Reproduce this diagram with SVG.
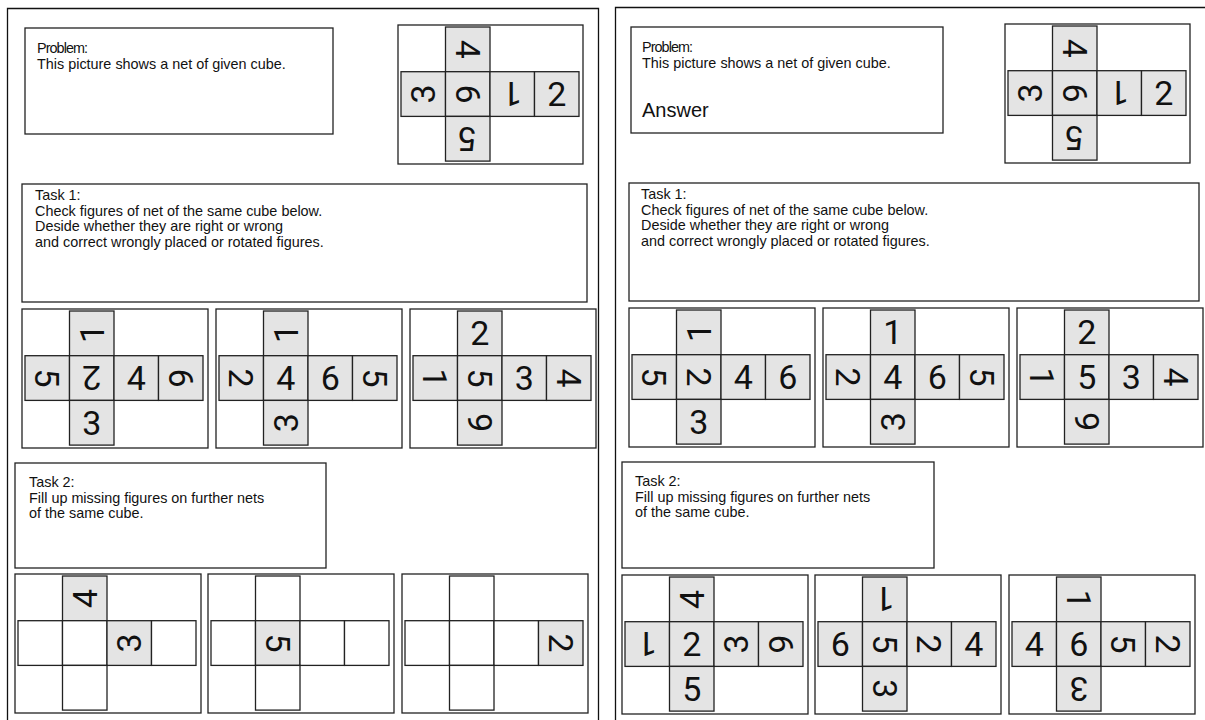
<svg xmlns="http://www.w3.org/2000/svg" width="1205" height="720" viewBox="0 0 1205 720">
<style>
.pn{fill:none;stroke:#111;stroke-width:1.3}
.box{fill:#fff;stroke:#222;stroke-width:1.3}
.fr{fill:#fff;stroke:#222;stroke-width:1.3}
.g{fill:#e4e4e4;stroke:#222;stroke-width:1.3}
.w{fill:#fff;stroke:#222;stroke-width:1.3}
.d{font-family:Roboto,"Liberation Sans",Arial,sans-serif;font-size:34px;text-anchor:middle;fill:#111}
.t{font-family:"Liberation Sans",Arial,sans-serif;font-size:14.4px;fill:#111}
.a{font-family:"Liberation Sans",Arial,sans-serif;font-size:20px;fill:#111}
</style>
<rect width="1205" height="720" fill="#fff"/>
<g id="panels">
<path class="pn" d="M7.5,725 V8.5 H598.5 V725"/>
<path class="pn" d="M615.5,725 V7.5 H1210"/>
</g>

<!-- LEFT PANEL -->
<g id="L-problem">
<rect class="box" x="25" y="28" width="308" height="106"/>
<text class="t" x="37" y="53" textLength="51">Problem:</text>
<text class="t" x="37" y="69">This picture shows a net of given cube.</text>
</g>
<g id="L-problem-net" transform="translate(398,25)">
<rect class="fr" x="0" y="0" width="185" height="139"/>
<rect class="g" x="47.5" y="2" width="44.5" height="44.7"/>
<rect class="g" x="3" y="46.7" width="44.5" height="44.7"/>
<rect class="g" x="47.5" y="46.7" width="44.5" height="44.7"/>
<rect class="g" x="92" y="46.7" width="44.5" height="44.7"/>
<rect class="g" x="136.5" y="46.7" width="44.5" height="44.7"/>
<rect class="g" x="47.5" y="91.4" width="44.5" height="44.7"/>
<text class="d" x="69.75" y="36.4" transform="rotate(90 69.75 24.35)">4</text>
<text class="d" x="25.25" y="81.1" transform="rotate(-90 25.25 69.05)">3</text>
<text class="d" x="69.75" y="81.1" transform="rotate(90 69.75 69.05)">6</text>
<text class="d" x="114.25" y="81.1" transform="rotate(180 114.25 69.05)">1</text>
<text class="d" x="158.75" y="81.1">2</text>
<text class="d" x="69.75" y="125.8" transform="rotate(180 69.75 113.75)">5</text>
</g>

<g id="L-task1">
<rect class="box" x="22" y="184" width="565" height="118"/>
<text class="t" x="35" y="200">Task 1:</text>
<text class="t" x="35" y="215.5">Check figures of net of the same cube below.</text>
<text class="t" x="35" y="231">Deside whether they are right or wrong</text>
<text class="t" x="35" y="246.5">and correct wrongly placed or rotated figures.</text>
</g>
<g id="L-t1-net1" transform="translate(22,309)">
<rect class="fr" x="0" y="0" width="186" height="139"/>
<rect class="g" x="47.5" y="2" width="44.5" height="44.7"/>
<rect class="g" x="3" y="46.7" width="44.5" height="44.7"/>
<rect class="g" x="47.5" y="46.7" width="44.5" height="44.7"/>
<rect class="g" x="92" y="46.7" width="44.5" height="44.7"/>
<rect class="g" x="136.5" y="46.7" width="44.5" height="44.7"/>
<rect class="g" x="47.5" y="91.4" width="44.5" height="44.7"/>
<text class="d" x="69.75" y="36.4" transform="rotate(-90 69.75 24.35)">1</text>
<text class="d" x="25.25" y="81.1" transform="rotate(90 25.25 69.05)">5</text>
<text class="d" x="69.75" y="81.1" transform="rotate(180 69.75 69.05)">2</text>
<text class="d" x="114.25" y="81.1">4</text>
<text class="d" x="158.75" y="81.1" transform="rotate(90 158.75 69.05)">6</text>
<text class="d" x="69.75" y="125.8">3</text>
</g>
<g id="L-t1-net2" transform="translate(216,309)">
<rect class="fr" x="0" y="0" width="186" height="139"/>
<rect class="g" x="47.5" y="2" width="44.5" height="44.7"/>
<rect class="g" x="3" y="46.7" width="44.5" height="44.7"/>
<rect class="g" x="47.5" y="46.7" width="44.5" height="44.7"/>
<rect class="g" x="92" y="46.7" width="44.5" height="44.7"/>
<rect class="g" x="136.5" y="46.7" width="44.5" height="44.7"/>
<rect class="g" x="47.5" y="91.4" width="44.5" height="44.7"/>
<text class="d" x="69.75" y="36.4" transform="rotate(-90 69.75 24.35)">1</text>
<text class="d" x="25.25" y="81.1" transform="rotate(90 25.25 69.05)">2</text>
<text class="d" x="69.75" y="81.1">4</text>
<text class="d" x="114.25" y="81.1">6</text>
<text class="d" x="158.75" y="81.1" transform="rotate(90 158.75 69.05)">5</text>
<text class="d" x="69.75" y="125.8" transform="rotate(-90 69.75 113.75)">3</text>
</g>
<g id="L-t1-net3" transform="translate(410,309)">
<rect class="fr" x="0" y="0" width="186" height="139"/>
<rect class="g" x="47.5" y="2" width="44.5" height="44.7"/>
<rect class="g" x="3" y="46.7" width="44.5" height="44.7"/>
<rect class="g" x="47.5" y="46.7" width="44.5" height="44.7"/>
<rect class="g" x="92" y="46.7" width="44.5" height="44.7"/>
<rect class="g" x="136.5" y="46.7" width="44.5" height="44.7"/>
<rect class="g" x="47.5" y="91.4" width="44.5" height="44.7"/>
<text class="d" x="69.75" y="36.4">2</text>
<text class="d" x="25.25" y="81.1" transform="rotate(90 25.25 69.05)">1</text>
<text class="d" x="69.75" y="81.1" transform="rotate(90 69.75 69.05)">5</text>
<text class="d" x="114.25" y="81.1">3</text>
<text class="d" x="158.75" y="81.1" transform="rotate(90 158.75 69.05)">4</text>
<text class="d" x="69.75" y="125.8" transform="rotate(-90 69.75 113.75)">6</text>
</g>

<g id="L-task2">
<rect class="box" x="15" y="463" width="311" height="105"/>
<text class="t" x="29" y="487">Task 2:</text>
<text class="t" x="29" y="502.5">Fill up missing figures on further nets</text>
<text class="t" x="29" y="518">of the same cube.</text>
</g>
<g id="L-t2-net1" transform="translate(15,574)">
<rect class="fr" x="0" y="0" width="186" height="139"/>
<rect class="g" x="47.5" y="2" width="44.5" height="44.7"/>
<rect class="w" x="3" y="46.7" width="44.5" height="44.7"/>
<rect class="w" x="47.5" y="46.7" width="44.5" height="44.7"/>
<rect class="g" x="92" y="46.7" width="44.5" height="44.7"/>
<rect class="w" x="136.5" y="46.7" width="44.5" height="44.7"/>
<rect class="w" x="47.5" y="91.4" width="44.5" height="44.7"/>
<text class="d" x="69.75" y="36.4" transform="rotate(-90 69.75 24.35)">4</text>
<text class="d" x="114.25" y="81.1" transform="rotate(-90 114.25 69.05)">3</text>
</g>
<g id="L-t2-net2" transform="translate(208,574)">
<rect class="fr" x="0" y="0" width="186" height="139"/>
<rect class="w" x="47.5" y="2" width="44.5" height="44.7"/>
<rect class="w" x="3" y="46.7" width="44.5" height="44.7"/>
<rect class="g" x="47.5" y="46.7" width="44.5" height="44.7"/>
<rect class="w" x="92" y="46.7" width="44.5" height="44.7"/>
<rect class="w" x="136.5" y="46.7" width="44.5" height="44.7"/>
<rect class="w" x="47.5" y="91.4" width="44.5" height="44.7"/>
<text class="d" x="69.75" y="81.1" transform="rotate(90 69.75 69.05)">5</text>
</g>
<g id="L-t2-net3" transform="translate(402,574)">
<rect class="fr" x="0" y="0" width="186" height="139"/>
<rect class="w" x="47.5" y="2" width="44.5" height="44.7"/>
<rect class="w" x="3" y="46.7" width="44.5" height="44.7"/>
<rect class="w" x="47.5" y="46.7" width="44.5" height="44.7"/>
<rect class="w" x="92" y="46.7" width="44.5" height="44.7"/>
<rect class="g" x="136.5" y="46.7" width="44.5" height="44.7"/>
<rect class="w" x="47.5" y="91.4" width="44.5" height="44.7"/>
<text class="d" x="158.75" y="81.1" transform="rotate(90 158.75 69.05)">2</text>
</g>

<!-- RIGHT PANEL -->
<g id="R-problem">
<rect class="box" x="631" y="27" width="312" height="106"/>
<text class="t" x="642" y="52" textLength="51">Problem:</text>
<text class="t" x="642" y="68">This picture shows a net of given cube.</text>
<text class="a" x="642" y="117">Answer</text>
</g>
<g id="R-problem-net" transform="translate(1005,24)">
<rect class="fr" x="0" y="0" width="185" height="139"/>
<rect class="g" x="47.5" y="2" width="44.5" height="44.7"/>
<rect class="g" x="3" y="46.7" width="44.5" height="44.7"/>
<rect class="g" x="47.5" y="46.7" width="44.5" height="44.7"/>
<rect class="g" x="92" y="46.7" width="44.5" height="44.7"/>
<rect class="g" x="136.5" y="46.7" width="44.5" height="44.7"/>
<rect class="g" x="47.5" y="91.4" width="44.5" height="44.7"/>
<text class="d" x="69.75" y="36.4" transform="rotate(90 69.75 24.35)">4</text>
<text class="d" x="25.25" y="81.1" transform="rotate(-90 25.25 69.05)">3</text>
<text class="d" x="69.75" y="81.1" transform="rotate(90 69.75 69.05)">6</text>
<text class="d" x="114.25" y="81.1" transform="rotate(180 114.25 69.05)">1</text>
<text class="d" x="158.75" y="81.1">2</text>
<text class="d" x="69.75" y="125.8" transform="rotate(180 69.75 113.75)">5</text>
</g>

<g id="R-task1">
<rect class="box" x="629" y="183" width="570" height="118"/>
<text class="t" x="641" y="199">Task 1:</text>
<text class="t" x="641" y="214.5">Check figures of net of the same cube below.</text>
<text class="t" x="641" y="230">Deside whether they are right or wrong</text>
<text class="t" x="641" y="245.5">and correct wrongly placed or rotated figures.</text>
</g>
<g id="R-t1-net1" transform="translate(629,308)">
<rect class="fr" x="0" y="0" width="186" height="139"/>
<rect class="g" x="47.5" y="2" width="44.5" height="44.7"/>
<rect class="g" x="3" y="46.7" width="44.5" height="44.7"/>
<rect class="g" x="47.5" y="46.7" width="44.5" height="44.7"/>
<rect class="g" x="92" y="46.7" width="44.5" height="44.7"/>
<rect class="g" x="136.5" y="46.7" width="44.5" height="44.7"/>
<rect class="g" x="47.5" y="91.4" width="44.5" height="44.7"/>
<text class="d" x="69.75" y="36.4" transform="rotate(-90 69.75 24.35)">1</text>
<text class="d" x="25.25" y="81.1" transform="rotate(90 25.25 69.05)">5</text>
<text class="d" x="69.75" y="81.1" transform="rotate(90 69.75 69.05)">2</text>
<text class="d" x="114.25" y="81.1">4</text>
<text class="d" x="158.75" y="81.1">6</text>
<text class="d" x="69.75" y="125.8">3</text>
</g>
<g id="R-t1-net2" transform="translate(823,308)">
<rect class="fr" x="0" y="0" width="186" height="139"/>
<rect class="g" x="47.5" y="2" width="44.5" height="44.7"/>
<rect class="g" x="3" y="46.7" width="44.5" height="44.7"/>
<rect class="g" x="47.5" y="46.7" width="44.5" height="44.7"/>
<rect class="g" x="92" y="46.7" width="44.5" height="44.7"/>
<rect class="g" x="136.5" y="46.7" width="44.5" height="44.7"/>
<rect class="g" x="47.5" y="91.4" width="44.5" height="44.7"/>
<text class="d" x="69.75" y="36.4">1</text>
<text class="d" x="25.25" y="81.1" transform="rotate(90 25.25 69.05)">2</text>
<text class="d" x="69.75" y="81.1">4</text>
<text class="d" x="114.25" y="81.1">6</text>
<text class="d" x="158.75" y="81.1" transform="rotate(90 158.75 69.05)">5</text>
<text class="d" x="69.75" y="125.8" transform="rotate(-90 69.75 113.75)">3</text>
</g>
<g id="R-t1-net3" transform="translate(1017,308)">
<rect class="fr" x="0" y="0" width="186" height="139"/>
<rect class="g" x="47.5" y="2" width="44.5" height="44.7"/>
<rect class="g" x="3" y="46.7" width="44.5" height="44.7"/>
<rect class="g" x="47.5" y="46.7" width="44.5" height="44.7"/>
<rect class="g" x="92" y="46.7" width="44.5" height="44.7"/>
<rect class="g" x="136.5" y="46.7" width="44.5" height="44.7"/>
<rect class="g" x="47.5" y="91.4" width="44.5" height="44.7"/>
<text class="d" x="69.75" y="36.4">2</text>
<text class="d" x="25.25" y="81.1" transform="rotate(90 25.25 69.05)">1</text>
<text class="d" x="69.75" y="81.1">5</text>
<text class="d" x="114.25" y="81.1">3</text>
<text class="d" x="158.75" y="81.1" transform="rotate(90 158.75 69.05)">4</text>
<text class="d" x="69.75" y="125.8" transform="rotate(-90 69.75 113.75)">6</text>
</g>

<g id="R-task2">
<rect class="box" x="622" y="462" width="312" height="106"/>
<text class="t" x="635" y="486">Task 2:</text>
<text class="t" x="635" y="501.5">Fill up missing figures on further nets</text>
<text class="t" x="635" y="517">of the same cube.</text>
</g>
<g id="R-t2-net1" transform="translate(622,575)">
<rect class="fr" x="0" y="0" width="186" height="139"/>
<rect class="g" x="47.5" y="2" width="44.5" height="44.7"/>
<rect class="g" x="3" y="46.7" width="44.5" height="44.7"/>
<rect class="g" x="47.5" y="46.7" width="44.5" height="44.7"/>
<rect class="g" x="92" y="46.7" width="44.5" height="44.7"/>
<rect class="g" x="136.5" y="46.7" width="44.5" height="44.7"/>
<rect class="g" x="47.5" y="91.4" width="44.5" height="44.7"/>
<text class="d" x="69.75" y="36.4" transform="rotate(-90 69.75 24.35)">4</text>
<text class="d" x="25.25" y="81.1" transform="rotate(180 25.25 69.05)">1</text>
<text class="d" x="69.75" y="81.1">2</text>
<text class="d" x="114.25" y="81.1" transform="rotate(-90 114.25 69.05)">3</text>
<text class="d" x="158.75" y="81.1" transform="rotate(90 158.75 69.05)">6</text>
<text class="d" x="69.75" y="125.8">5</text>
</g>
<g id="R-t2-net2" transform="translate(815,575)">
<rect class="fr" x="0" y="0" width="186" height="139"/>
<rect class="g" x="47.5" y="2" width="44.5" height="44.7"/>
<rect class="g" x="3" y="46.7" width="44.5" height="44.7"/>
<rect class="g" x="47.5" y="46.7" width="44.5" height="44.7"/>
<rect class="g" x="92" y="46.7" width="44.5" height="44.7"/>
<rect class="g" x="136.5" y="46.7" width="44.5" height="44.7"/>
<rect class="g" x="47.5" y="91.4" width="44.5" height="44.7"/>
<text class="d" x="69.75" y="36.4" transform="rotate(180 69.75 24.35)">1</text>
<text class="d" x="25.25" y="81.1">6</text>
<text class="d" x="69.75" y="81.1" transform="rotate(90 69.75 69.05)">5</text>
<text class="d" x="114.25" y="81.1" transform="rotate(90 114.25 69.05)">2</text>
<text class="d" x="158.75" y="81.1">4</text>
<text class="d" x="69.75" y="125.8" transform="rotate(90 69.75 113.75)">3</text>
</g>
<g id="R-t2-net3" transform="translate(1009,575)">
<rect class="fr" x="0" y="0" width="186" height="139"/>
<rect class="g" x="47.5" y="2" width="44.5" height="44.7"/>
<rect class="g" x="3" y="46.7" width="44.5" height="44.7"/>
<rect class="g" x="47.5" y="46.7" width="44.5" height="44.7"/>
<rect class="g" x="92" y="46.7" width="44.5" height="44.7"/>
<rect class="g" x="136.5" y="46.7" width="44.5" height="44.7"/>
<rect class="g" x="47.5" y="91.4" width="44.5" height="44.7"/>
<text class="d" x="69.75" y="36.4" transform="rotate(90 69.75 24.35)">1</text>
<text class="d" x="25.25" y="81.1">4</text>
<text class="d" x="69.75" y="81.1">6</text>
<text class="d" x="114.25" y="81.1" transform="rotate(90 114.25 69.05)">5</text>
<text class="d" x="158.75" y="81.1" transform="rotate(90 158.75 69.05)">2</text>
<text class="d" x="69.75" y="125.8" transform="rotate(180 69.75 113.75)">3</text>
</g>
</svg>
